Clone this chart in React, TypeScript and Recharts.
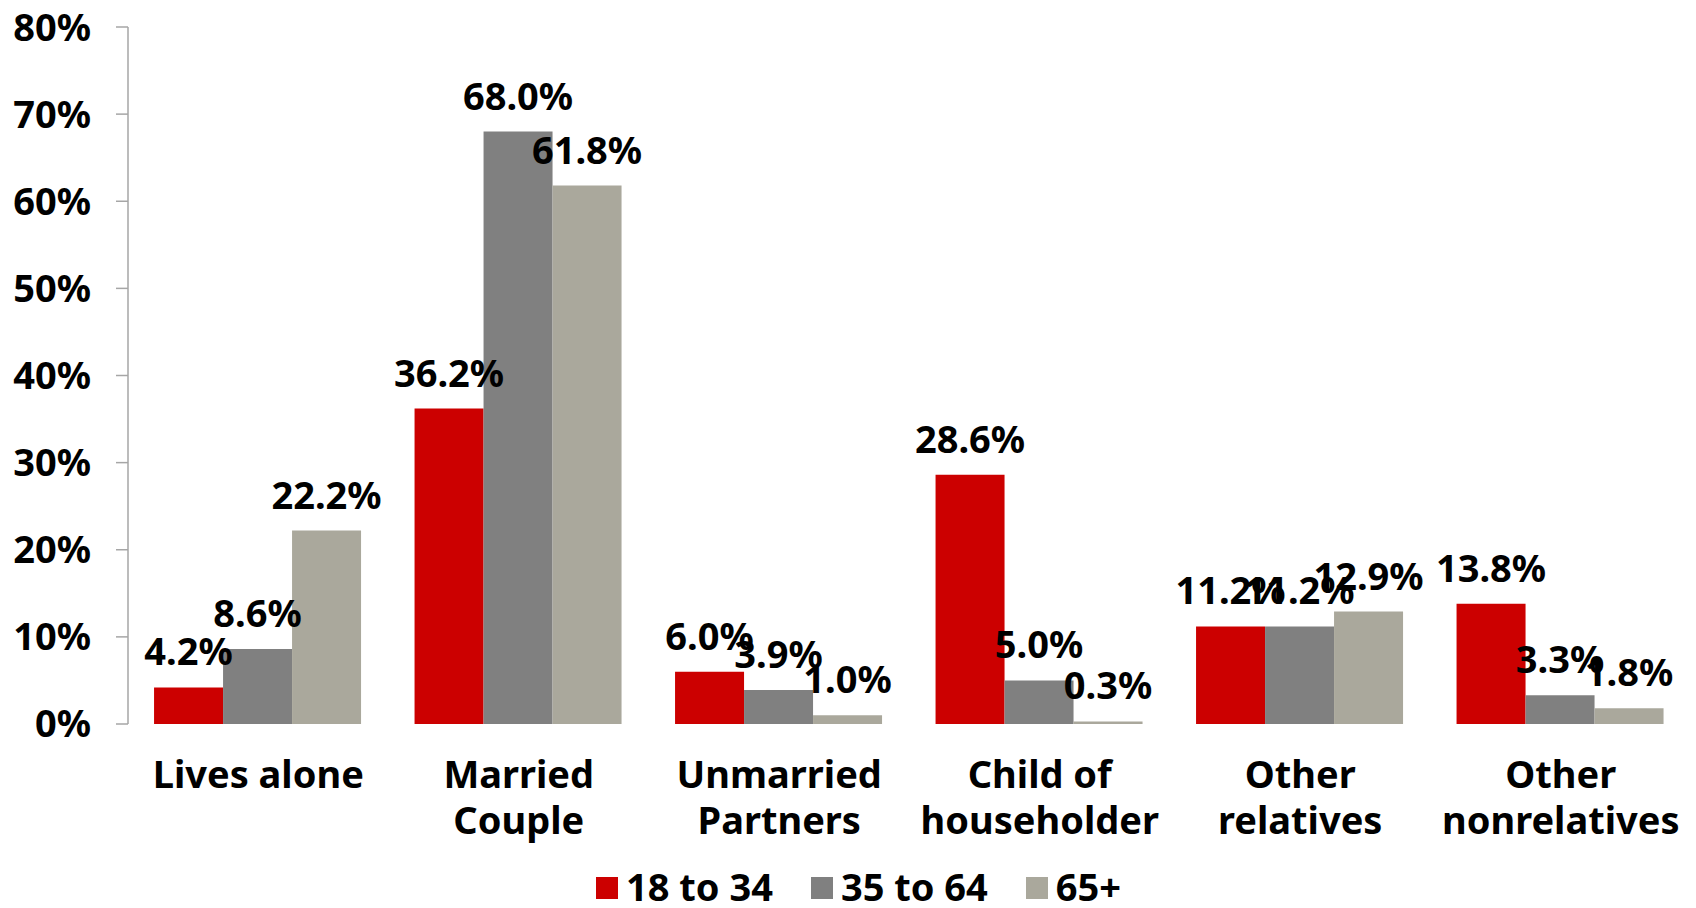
import { Bar, BarChart, XAxis, YAxis, Legend, LabelList } from "recharts";

// categories and the two-line tick labels under them
const categories = [
  "Lives alone",
  "Married Couple",
  "Unmarried Partners",
  "Child of householder",
  "Other relatives",
  "Other nonrelatives",
];
const tickLines = [
  ["Lives alone"],
  ["Married", "Couple"],
  ["Unmarried", "Partners"],
  ["Child of", "householder"],
  ["Other", "relatives"],
  ["Other", "nonrelatives"],
];

// share of each age group, in percent
const young = [4.2, 36.2, 6.0, 28.6, 11.2, 13.8];
const middle = [8.6, 68.0, 3.9, 5.0, 11.2, 3.3];
const older = [22.2, 61.8, 1.0, 0.3, 12.9, 1.8];

const yTicks = [0, 10, 20, 30, 40, 50, 60, 70, 80];
const boundaryTicks = [0, 1, 2, 3, 4, 5, 6];

const series = [
  { key: "young", name: "18 to 34", color: "#CC0000" },
  { key: "middle", name: "35 to 64", color: "#808080" },
  { key: "older", name: "65+", color: "#AAA89C" },
];

const data = categories.map((c, i) => ({
  name: c,
  young: young[i],
  middle: middle[i],
  older: older[i],
}));

const FONT = "'Noto Sans', sans-serif";
const AXIS = "#A6A6A6";

function CategoryTick(props: any) {
  const { x, y, index } = props;
  const lines = tickLines[index] || [props.payload.value];
  return (
    <text
      x={x}
      y={y}
      textAnchor="middle"
      fontFamily={FONT}
      fontWeight="bold"
      fontSize={38}
      fill="#000"
    >
      {lines.map((l: string, i: number) => (
        <tspan key={i} x={x} dy={i === 0 ? 64 : 46}>
          {l}
        </tspan>
      ))}
    </text>
  );
}

function LegendContent() {
  return (
    <div
      style={{
        display: "flex",
        justifyContent: "center",
        paddingLeft: 26,
        paddingTop: 13,
        fontFamily: FONT,
        fontWeight: "bold",
        fontSize: 38,
        lineHeight: "38px",
        color: "#000",
      }}
    >
      {series.map((s) => (
        <div
          key={s.key}
          style={{ display: "flex", alignItems: "center", margin: "0 19px" }}
        >
          <span
            style={{
              width: 22,
              height: 22,
              background: s.color,
              marginRight: 8,
              marginTop: 4,
              display: "inline-block",
            }}
          />
          <span>{s.name}</span>
        </div>
      ))}
    </div>
  );
}

export default function App() {
  return (
    <div style={{ position: "absolute", top: 0, left: 0, background: "#fff" }}>
      <BarChart
        width={1696}
        height={908}
        data={data}
        margin={{ top: 27, right: 5, left: 0, bottom: 0 }}
        barCategoryGap="10%"
        barGap={0}
      >
        {/* tick marks between categories */}
        <XAxis
          xAxisId="grid"
          type="number"
          domain={[0, 6]}
          allowDataOverflow
          ticks={boundaryTicks}
          tickFormatter={() => ""}
          tickSize={12}
          height={0}
          stroke={AXIS}
          axisLine={{ stroke: AXIS, strokeWidth: 1.5 }}
          tickLine={{ stroke: AXIS, strokeWidth: 1.5 }}
        />
        <XAxis
          xAxisId="cat"
          dataKey="name"
          axisLine={false}
          tickLine={false}
          tickSize={0}
          tickMargin={0}
          interval={0}
          height={130}
          tick={<CategoryTick />}
        />
        <YAxis
          width={128}
          domain={[0, 80]}
          ticks={yTicks}
          tickFormatter={(v) => `${v}%`}
          tickSize={12}
          tickMargin={25}
          axisLine={{ stroke: AXIS, strokeWidth: 1.5 }}
          tickLine={{ stroke: AXIS, strokeWidth: 1.5 }}
          tick={{ fontFamily: FONT, fontWeight: "bold", fontSize: 38, fill: "#000" }}
        />
        <Legend verticalAlign="bottom" height={54} content={<LegendContent />} />
        {series.map((s) => (
          <Bar
            key={s.key}
            xAxisId="cat"
            dataKey={s.key}
            name={s.name}
            fill={s.color}
            isAnimationActive={false}
          >
            <LabelList
              dataKey={s.key}
              position="top"
              offset={22}
              formatter={(v: any) => `${Number(v).toFixed(1)}%`}
              style={{ fontFamily: FONT, fontWeight: "bold", fontSize: 38, fill: "#000" }}
            />
          </Bar>
        ))}
      </BarChart>
    </div>
  );
}
